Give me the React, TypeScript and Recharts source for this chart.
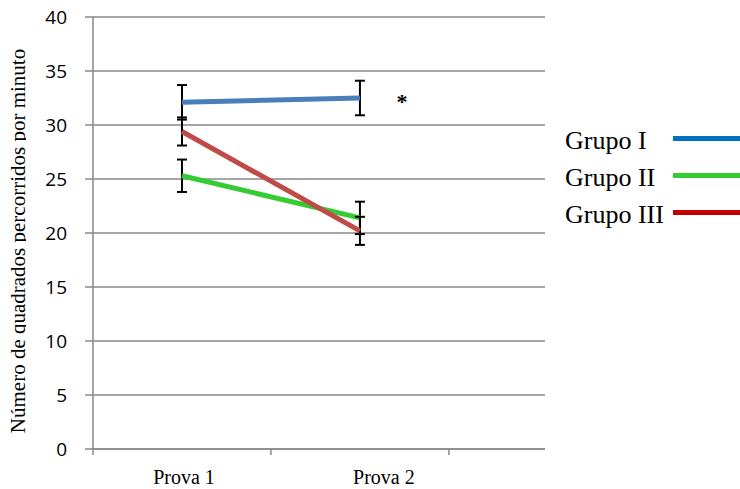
import { CartesianGrid, ErrorBar, Line, LineChart, XAxis, YAxis } from "recharts";

const provas = ["Prova 1", "Prova 2"];
const grupoI = [32.1, 32.5];
const grupoIErr = [1.6, 1.6];
const grupoII = [25.3, 21.4];
const grupoIIErr = [1.5, 1.5];
const grupoIII = [29.4, 20.2];
const grupoIIIErr = [1.3, 1.3];
const yTicks = [0, 5, 10, 15, 20, 25, 30, 35, 40];

const series = [
  { key: "g1", name: "Grupo I", line: "#4a7ebb", legend: "#0070c0" },
  { key: "g2", name: "Grupo II", line: "#33cc33", legend: "#33cc33" },
  { key: "g3", name: "Grupo III", line: "#be4b48", legend: "#c00000" },
];

// each prova sits in the middle of its band on a numeric axis
const data = provas.map((p, i) => ({
  x: i + 0.5,
  name: p,
  g1: grupoI[i],
  g1e: grupoIErr[i],
  g2: grupoII[i],
  g2e: grupoIIErr[i],
  g3: grupoIII[i],
  g3e: grupoIIIErr[i],
}));

const serif = "'Liberation Serif', 'Times New Roman', serif";
const gray = "#888888";

const XTick = (props: any) => {
  const { x, y, payload } = props;
  const v = payload.value;
  if (Number.isInteger(v)) {
    return <line x1={x} y1={y - 8} x2={x} y2={y - 2} stroke={gray} strokeWidth={1.5} />;
  }
  const idx = Math.floor(v);
  const label = provas[idx];
  const dx = idx === 1 ? 24 : 2;
  return (
    <text x={x + dx} y={y + 27} textAnchor="middle" fontFamily={serif} fontSize={20} fill="#000">
      {label}
    </text>
  );
};

const AxisTitle = () => (
  <g>
    <defs>
      <clipPath id="ytitle">
        <rect x={0} y={0} width={26} height={489} />
      </clipPath>
    </defs>
    <g clipPath="url(#ytitle)">
      <text
        x={25}
        y={241}
        transform="rotate(-90, 25, 241)"
        textAnchor="middle"
        fontFamily={serif}
        fontSize={21}
        fill="#000"
      >
        Número de quadrados percorridos por minuto
      </text>
    </g>
  </g>
);

const Star = (props: any) => {
  const { x, y, index } = props;
  if (index !== 1) return <g />;
  return (
    <text x={x + 42} y={y + 11} textAnchor="middle" fontFamily={serif} fontWeight="bold" fontSize={22} fill="#000">
      *
    </text>
  );
};

export default function App() {
  return (
    <div style={{ position: "absolute", left: 0, top: 0, width: 740, height: 489, background: "#fff" }}>
      <LineChart width={740} height={489} data={data} margin={{ top: 17, right: 195, left: 0, bottom: 0 }}>
        <CartesianGrid vertical={false} stroke={gray} strokeWidth={1.5} />
        <XAxis
          dataKey="x"
          type="number"
          domain={[0, 2.54]}
          ticks={[0, 0.5, 1, 1.5, 2]}
          tickLine={false}
          axisLine={{ stroke: gray, strokeWidth: 1.5 }}
          tick={<XTick />}
          height={40}
          interval={0}
        />
        <YAxis
          domain={[0, 40]}
          ticks={yTicks}
          width={93}
          tickSize={8}
          tickMargin={18}
          axisLine={{ stroke: gray, strokeWidth: 1.5 }}
          tickLine={{ stroke: gray, strokeWidth: 1.5 }}
          tick={{ fontFamily: "'Open Sans', sans-serif", fontSize: 19, fill: "#000" }}
          label={<AxisTitle />}
        />
        {series.map((s) => (
          <Line
            key={s.key}
            dataKey={s.key}
            name={s.name}
            stroke={s.line}
            strokeWidth={5}
            dot={false}
            activeDot={false}
            isAnimationActive={false}
            label={s.key === "g1" ? <Star /> : undefined}
          >
            <ErrorBar dataKey={s.key + "e"} direction="y" width={5} stroke="#000" strokeWidth={2} isAnimationActive={false} />
          </Line>
        ))}
      </LineChart>
      <div style={{ position: "absolute", left: 565, top: 122, fontFamily: serif, fontSize: 26, color: "#000" }}>
        {series.map((s) => (
          <div key={s.key} style={{ display: "flex", alignItems: "center", height: 37 }}>
            <span style={{ width: 108 }}>{s.name}</span>
            <span style={{ display: "inline-block", width: 70, height: 5, marginTop: -4, background: s.legend }} />
          </div>
        ))}
      </div>
    </div>
  );
}
